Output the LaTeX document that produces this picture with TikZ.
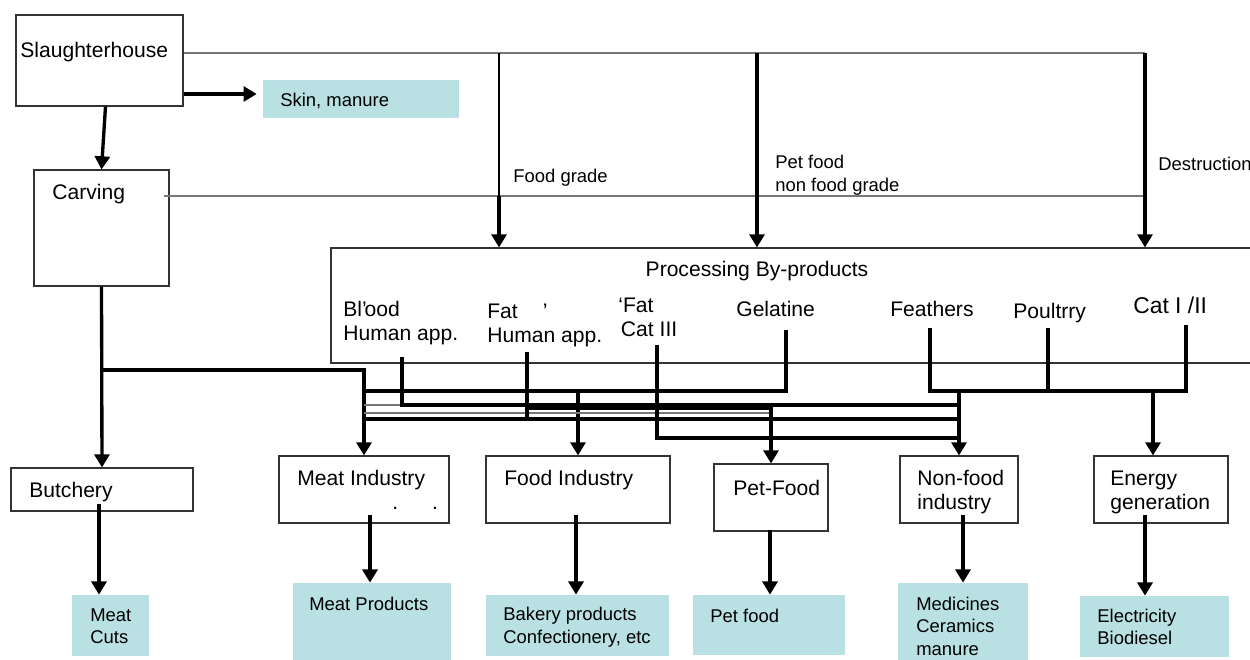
\documentclass[tikz,border=0pt]{standalone}
\usepackage{fontspec}
\setmainfont{Liberation Sans}
\usetikzlibrary{arrows.meta,positioning,fit}
\definecolor{prodfill}{RGB}{185,224,226}
\definecolor{wire}{RGB}{120,120,120}
\tikzset{
    stage/.style={draw=black!80, line width=0.6pt, inner sep=0pt},
    product/.style={fill=prodfill, inner sep=0pt},
    lbl/.style={anchor=west, inner sep=0pt, align=left, font=\fontsize{12}{13.7}\selectfont},
    note/.style={anchor=west, inner sep=0pt, align=left, font=\fontsize{10.5}{12.8}\selectfont},
    feed/.style={line width=1.9pt, -{Triangle[width=8.5pt,length=7.5pt]}},
    rail/.style={line width=1.9pt},
    hair/.style={line width=0.6pt, draw=wire}
}

\begin{document}
\begin{tikzpicture}[x=0.02cm, y=-0.02cm]
\path[use as bounding box, fill=white] (0,0) rectangle (1250,659);

% boxes
\node[stage, fit={(16,15) (183,106)}] (slh) {};
\node[product, fit={(263,80) (459,118)}] (skin) {};
\node[stage, fit={(34,170) (169,286)}] (carv) {};
\node[stage, fit={(331,248) (1262,363)}] (proc) {};
\node[stage, fit={(11,468) (193,511)}] (butch) {};
\node[stage, fit={(279,456) (449,523)}] (meat) {};
\node[stage, fit={(486,456) (670,523)}] (food) {};
\node[stage, fit={(714,464) (828,531)}] (pet) {};
\node[stage, fit={(900,456) (1018,523)}] (nonf) {};
\node[stage, fit={(1094,456) (1228,523)}] (ener) {};
\node[product, fit={(72,595) (149,656)}] (cuts) {};
\node[product, fit={(293,583) (451,661)}] (mprod) {};
\node[product, fit={(486,595) (669,656)}] (bake) {};
\node[product, fit={(693,595) (845,655)}] (petf) {};
\node[product, fit={(898,583) (1028,661)}] (medi) {};
\node[product, fit={(1080,596) (1229,657)}] (elec) {};

% texts
\node[lbl] (slhtxt) at (20,52) {Slaughterhouse};
\node[note] (skintxt) at (280,101) {Skin, manure};
\node[lbl] (carvtxt) at (52,194) {Carving};
\node[note] (fgtxt) at (513,178) {Food grade};
\node[note] (pftxt) at (775,175) {Pet food\\non food grade};
\node[note] (dstxt) at (1158,164) {Destruction};
\node[lbl, anchor=center] (proctxt) at (757,271) {Processing By-products};
\node[lbl] (blood) at (343,323) {Bl\makebox[1.5pt][l]{’}ood\\Human app.};
\node[lbl] (fat) at (487,325) {Fat\hspace{0.5cm}’\\Human app.};
\node[lbl] (fatiii) at (618,317) {‘Fat\\\hspace{1.5pt}Cat III};
\node[lbl] (gel) at (736,309) {Gelatine};
\node[lbl] (feath) at (890,309) {Feathers};
\node[lbl] (poul) at (1013,313) {Poultrry};
\node[lbl, font=\fontsize{13}{15}\selectfont] (cat) at (1133,305) {Cat I /II};
\node[lbl] (butchtxt) at (29,492) {Butchery};
\node[lbl] (meattxt) at (297,480) {Meat Industry};
\node[lbl] (meatdots) at (392,508) {.\hspace{0.68cm}.};
\node[lbl] (foodtxt) at (504,480) {Food Industry};
\node[lbl] (pettxt) at (733,488) {Pet-Food};
\node[lbl] (nonftxt) at (917,492) {Non-food\\industry};
\node[lbl] (enertxt) at (1110,492) {Energy\\generation};
\node[note] (cutstxt) at (90,626) {Meat\\Cuts};
\node[note] (mprodtxt) at (309,604) {Meat Products};
\node[note] (baketxt) at (503,627) {Bakery products\\Confectionery, etc};
\node[note] (petftxt) at (710,616) {Pet food};
\node[note] (meditxt) at (916,626) {Medicines\\Ceramics\\manure};
\node[note] (electxt) at (1097,627) {Electricity\\Biodiesel};

% grade split
\coordinate (fg) at (499,53);
\coordinate (pf) at (757,53);
\coordinate (ds) at (1145,53);
\coordinate (low) at (0,196);
\coordinate (cvr) at ([shift={(-6,0)}]carv.east);
\coordinate (sk) at ([shift={(0,-5)}]skin.west);
\draw[hair] (slh.east |- ds) -- (ds);
\draw[hair] (cvr |- low) -- (ds |- low);
\draw[line width=0.6pt] (fg) -- (fg |- low);
\draw[feed] (fg |- low) -- (fg |- proc.north);
\draw[feed] (pf) -- (pf |- proc.north);
\draw[feed] (ds) -- (ds |- proc.north);
\draw[feed, shorten >=3.4pt] (slh.east |- sk) -- (sk);
\draw[feed] ([shift={(6,0)}]slh.south) -- (carv.north);
\draw[feed] (carv.south) -- (butch.north);

% by-product rails
\coordinate (r0) at (0,370);
\coordinate (r1) at (0,391);
\coordinate (r2) at (0,405);
\coordinate (r3) at (0,408);
\coordinate (rt) at (0,413);
\coordinate (r4) at (0,419);
\coordinate (r5) at (0,438);
\coordinate (bl) at ([shift={(59,34)}]blood.west);
\coordinate (ft) at ([shift={(40,27)}]fat.west);
\coordinate (f3) at ([shift={(39,28)}]fatiii.west);
\coordinate (gl) at ([shift={(50,21)}]gel.west);
\coordinate (fe) at ([shift={(40,19)}]feath.west);
\coordinate (po) at ([shift={(35,15)}]poul.west);
\coordinate (ca) at ([shift={(53,20)}]cat.west);
\coordinate (en) at ([shift={(-8,0)}]ener.north);

\draw[feed] (carv.south |- r0) -| (meat.north);
\draw[rail] (gl) |- (meat.north |- r1);
\draw[feed] (food.north |- r1) -- (food.north);
\draw[hair] (meat.north |- r2) -- (bl |- r2);
\draw[hair] (meat.north |- rt) -- (pet.north |- rt);
\draw[rail] (bl) |- (nonf.north |- r2);
\draw[rail] (ft) -- (ft |- r4);
\draw[rail] (meat.north |- r4) -- (nonf.north |- r4);
\draw[rail] (ft |- r3) -- (pet.north |- r3);
\draw[feed] (pet.north |- r2) -- (pet.north);
\draw[rail] (f3) |- (nonf.north |- r5);
\draw[rail] (fe) |- (ca |- r1) -- (ca);
\draw[rail] (po) -- (po |- r1);
\draw[feed] (nonf.north |- r1) -- (nonf.north);
\draw[feed] (en |- r1) -- (en);

% outputs
\foreach \src/\dst/\dx/\dy in {butch/cuts/-3/-8, meat/mprod/6/-9, food/bake/-2/-9,
                               pet/petf/-1/-2, nonf/medi/4/-9, ener/elec/-16/-9} {
    \coordinate (o) at ([shift={(\dx,\dy)}]\src.south);
    \draw[feed] (o) -- (o |- \dst.north);
}
\end{tikzpicture}
\end{document}
